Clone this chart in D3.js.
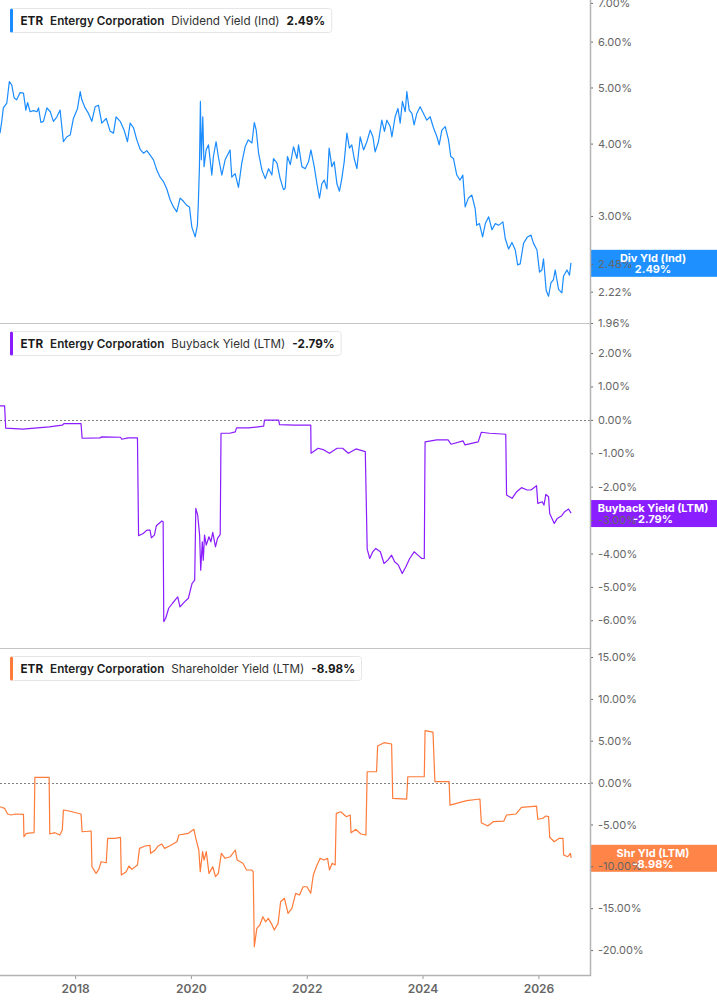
<!DOCTYPE html>
<html>
<head>
<meta charset="utf-8">
<script src="https://cdn.jsdelivr.net/npm/d3@7"></script>
<style>
  body { margin: 0; background: #fff; }
  svg { display: block; font-family: Inter, "Noto Sans", sans-serif; }
</style>
</head>
<body>
<svg id="chart" width="717" height="1005"></svg>
<script>
// values: [decimal year, percent]
const divYield = [
  [2016.705, 4.17], [2016.734, 4.37], [2016.762, 4.61], [2016.821, 4.70], [2016.866, 5.12],
  [2016.907, 5.05], [2016.947, 4.80], [2016.993, 4.76], [2017.050, 4.90], [2017.107, 4.89],
  [2017.149, 4.57], [2017.177, 4.71], [2017.223, 4.54], [2017.280, 4.56], [2017.339, 4.54],
  [2017.366, 4.61], [2017.408, 4.35], [2017.453, 4.37], [2017.512, 4.61], [2017.569, 4.54],
  [2017.626, 4.37], [2017.684, 4.45], [2017.741, 4.57], [2017.798, 4.03], [2017.857, 4.11],
  [2017.914, 4.14], [2017.971, 4.42], [2018.040, 4.60], [2018.087, 4.92], [2018.116, 4.76],
  [2018.173, 4.61], [2018.230, 4.51], [2018.289, 4.37], [2018.346, 4.63], [2018.403, 4.66],
  [2018.461, 4.34], [2018.536, 4.42], [2018.605, 4.20], [2018.662, 4.17], [2018.708, 4.45],
  [2018.777, 4.37], [2018.847, 4.22], [2018.904, 4.03], [2018.950, 4.34], [2019.007, 4.26],
  [2019.066, 4.06], [2019.123, 3.91], [2019.180, 3.85], [2019.239, 3.89], [2019.296, 3.82],
  [2019.353, 3.75], [2019.411, 3.60], [2019.468, 3.50], [2019.525, 3.44], [2019.584, 3.34],
  [2019.641, 3.20], [2019.698, 3.11], [2019.757, 3.05], [2019.814, 3.22], [2019.871, 3.18],
  [2019.930, 3.13], [2019.975, 3.11], [2020.016, 2.87], [2020.073, 2.76], [2020.113, 2.89],
  [2020.130, 3.16], [2020.147, 3.65], [2020.164, 4.73], [2020.182, 3.75], [2020.206, 4.45],
  [2020.228, 3.65], [2020.263, 3.90], [2020.303, 3.98], [2020.361, 3.53], [2020.389, 3.80],
  [2020.436, 4.03], [2020.475, 3.80], [2020.534, 3.53], [2020.591, 3.75], [2020.677, 3.90],
  [2020.707, 3.50], [2020.764, 3.55], [2020.821, 3.36], [2020.879, 3.70], [2020.936, 3.95],
  [2020.993, 4.06], [2021.052, 4.01], [2021.092, 4.35], [2021.126, 4.22], [2021.166, 3.85],
  [2021.225, 3.60], [2021.282, 3.48], [2021.339, 3.62], [2021.398, 3.53], [2021.425, 3.77],
  [2021.484, 3.70], [2021.541, 3.48], [2021.598, 3.33], [2021.627, 3.35], [2021.667, 3.80],
  [2021.714, 3.68], [2021.771, 3.95], [2021.829, 3.77], [2021.857, 3.98], [2021.916, 3.65],
  [2021.973, 3.62], [2022.030, 3.72], [2022.071, 3.90], [2022.128, 3.65], [2022.175, 3.41],
  [2022.220, 3.22], [2022.261, 3.41], [2022.301, 3.46], [2022.347, 3.34], [2022.387, 3.93],
  [2022.434, 3.65], [2022.473, 3.72], [2022.520, 3.41], [2022.565, 3.31], [2022.606, 3.48],
  [2022.646, 3.72], [2022.693, 4.17], [2022.738, 3.93], [2022.779, 3.98], [2022.819, 3.77],
  [2022.866, 3.62], [2022.922, 4.11], [2022.980, 3.90], [2023.038, 4.03], [2023.095, 4.22],
  [2023.142, 4.11], [2023.182, 3.87], [2023.239, 4.03], [2023.297, 4.39], [2023.342, 4.20],
  [2023.384, 4.39], [2023.441, 4.28], [2023.470, 4.11], [2023.527, 4.45], [2023.574, 4.60],
  [2023.613, 4.34], [2023.653, 4.73], [2023.700, 4.54], [2023.729, 4.92], [2023.769, 4.57],
  [2023.816, 4.51], [2023.855, 4.31], [2023.902, 4.51], [2023.959, 4.63], [2024.016, 4.51],
  [2024.075, 4.39], [2024.132, 4.45], [2024.189, 4.26], [2024.248, 4.11], [2024.287, 3.98],
  [2024.334, 4.22], [2024.391, 4.28], [2024.448, 4.06], [2024.489, 3.80], [2024.534, 3.77],
  [2024.593, 3.53], [2024.650, 3.46], [2024.697, 3.53], [2024.736, 3.11], [2024.793, 3.22],
  [2024.852, 3.26], [2024.909, 3.09], [2024.938, 2.89], [2024.983, 2.91], [2025.035, 2.76],
  [2025.082, 2.91], [2025.139, 2.99], [2025.197, 2.84], [2025.254, 2.91], [2025.311, 2.89],
  [2025.387, 2.93], [2025.427, 2.74], [2025.484, 2.63], [2025.543, 2.70], [2025.600, 2.62],
  [2025.640, 2.47], [2025.686, 2.48], [2025.743, 2.69], [2025.812, 2.76], [2025.871, 2.78],
  [2025.916, 2.69], [2025.974, 2.62], [2026.019, 2.40], [2026.061, 2.42], [2026.089, 2.53],
  [2026.135, 2.23], [2026.175, 2.18], [2026.216, 2.30], [2026.261, 2.33], [2026.290, 2.42],
  [2026.348, 2.24], [2026.406, 2.21], [2026.434, 2.36], [2026.493, 2.42], [2026.537, 2.37],
  [2026.561, 2.49]
];

const buybackYield = [
  [2016.705, 0.42], [2016.783, 0.42], [2016.802, -0.25], [2017.095, -0.28], [2017.550, -0.21],
  [2017.776, -0.16], [2017.810, -0.11], [2018.102, -0.11], [2018.121, -0.55], [2018.427, -0.54],
  [2018.460, -0.51], [2018.784, -0.52], [2018.805, -0.58], [2018.916, -0.54], [2019.078, -0.54],
  [2019.097, -3.47], [2019.175, -3.40], [2019.240, -3.30], [2019.292, -3.30], [2019.318, -3.53],
  [2019.370, -3.45], [2019.403, -3.17], [2019.499, -3.03], [2019.520, -3.05], [2019.532, -6.04],
  [2019.565, -5.94], [2019.617, -5.64], [2019.683, -5.49], [2019.727, -5.40], [2019.772, -5.30],
  [2019.812, -5.60], [2019.890, -5.45], [2019.955, -5.34], [2020.019, -4.90], [2020.066, -4.80],
  [2020.085, -2.65], [2020.118, -2.85], [2020.151, -3.45], [2020.170, -4.50], [2020.196, -3.65],
  [2020.215, -4.20], [2020.235, -3.45], [2020.266, -3.75], [2020.313, -3.50], [2020.346, -3.65],
  [2020.377, -3.37], [2020.424, -3.80], [2020.461, -3.55], [2020.508, -3.43], [2020.520, -0.40],
  [2020.670, -0.40], [2020.767, -0.36], [2020.788, -0.24], [2020.995, -0.24], [2021.256, -0.19],
  [2021.268, -0.01], [2021.515, -0.01], [2021.529, -0.14], [2021.776, -0.16], [2022.068, -0.16],
  [2022.075, -1.00], [2022.197, -0.85], [2022.296, -0.90], [2022.392, -1.00], [2022.522, -0.85],
  [2022.620, -0.85], [2022.717, -1.00], [2022.848, -0.87], [2023.011, -0.95], [2023.043, -3.87],
  [2023.088, -4.15], [2023.140, -3.95], [2023.192, -3.85], [2023.270, -3.95], [2023.335, -4.30],
  [2023.401, -4.20], [2023.465, -4.05], [2023.517, -4.25], [2023.583, -4.35], [2023.648, -4.60],
  [2023.712, -4.40], [2023.778, -4.15], [2023.855, -3.95], [2023.921, -4.05], [2023.985, -4.15],
  [2024.031, -4.15], [2024.043, -0.66], [2024.246, -0.60], [2024.441, -0.60], [2024.493, -0.73],
  [2024.700, -0.63], [2024.733, -0.75], [2024.961, -0.66], [2025.013, -0.37], [2025.156, -0.40],
  [2025.435, -0.43], [2025.448, -2.25], [2025.546, -2.35], [2025.624, -2.15], [2025.708, -2.03],
  [2025.805, -2.10], [2025.871, -2.10], [2025.967, -1.97], [2025.988, -2.50], [2026.066, -2.45],
  [2026.097, -2.55], [2026.130, -2.23], [2026.176, -2.30], [2026.195, -2.80], [2026.273, -3.10],
  [2026.325, -2.95], [2026.403, -2.87], [2026.455, -2.75], [2026.520, -2.67], [2026.565, -2.79]
];

const shareholderYield = [
  [2016.705, -2.88], [2016.783, -3.07], [2016.835, -3.75], [2016.900, -3.87], [2016.966, -3.75],
  [2017.107, -3.79], [2017.114, -6.46], [2017.159, -6.06], [2017.290, -5.98], [2017.303, 0.63],
  [2017.550, 0.63], [2017.563, -6.14], [2017.648, -5.98], [2017.733, -6.26], [2017.778, -5.66],
  [2017.797, -3.27], [2017.874, -3.36], [2018.102, -3.75], [2018.121, -5.87], [2018.278, -5.78],
  [2018.291, -10.05], [2018.363, -10.84], [2018.408, -10.36], [2018.448, -9.45], [2018.537, -9.57],
  [2018.563, -6.65], [2018.688, -6.65], [2018.784, -6.53], [2018.798, -11.04], [2018.883, -10.64],
  [2018.928, -9.96], [2018.980, -10.36], [2019.078, -9.84], [2019.111, -7.85], [2019.208, -7.57],
  [2019.292, -7.49], [2019.304, -8.45], [2019.370, -8.14], [2019.436, -7.57], [2019.499, -7.33],
  [2019.546, -7.85], [2019.631, -7.57], [2019.760, -7.06], [2019.793, -6.26], [2019.955, -6.06],
  [2020.052, -5.58], [2020.085, -6.65], [2020.137, -8.05], [2020.163, -10.64], [2020.202, -8.25],
  [2020.228, -9.25], [2020.266, -8.25], [2020.313, -10.84], [2020.377, -10.05], [2020.424, -11.24],
  [2020.475, -10.84], [2020.527, -8.45], [2020.593, -9.04], [2020.683, -8.85], [2020.767, -8.05],
  [2020.800, -9.25], [2020.898, -9.64], [2020.962, -10.44], [2021.047, -10.44], [2021.073, -10.64],
  [2021.092, -19.60], [2021.138, -17.41], [2021.190, -17.01], [2021.242, -16.02], [2021.287, -16.62],
  [2021.334, -16.21], [2021.385, -16.81], [2021.437, -17.61], [2021.503, -16.81], [2021.548, -14.23],
  [2021.613, -13.82], [2021.677, -15.61], [2021.743, -15.02], [2021.807, -13.22], [2021.873, -13.43],
  [2021.938, -12.44], [2022.002, -12.44], [2022.068, -13.22], [2022.113, -11.04], [2022.165, -10.05],
  [2022.230, -9.04], [2022.296, -9.25], [2022.360, -9.04], [2022.392, -10.44], [2022.439, -9.64],
  [2022.491, -9.84], [2022.510, -3.67], [2022.587, -3.48], [2022.686, -4.07], [2022.750, -3.87],
  [2022.764, -5.98], [2022.848, -5.58], [2022.933, -6.14], [2023.023, -6.26], [2023.043, 1.30],
  [2023.206, 1.30], [2023.225, 4.37], [2023.335, 4.77], [2023.465, 4.61], [2023.486, -1.88],
  [2023.725, -1.96], [2023.745, 0.70], [2024.031, 0.70], [2024.043, 6.20], [2024.180, 6.04],
  [2024.213, 0.11], [2024.460, 0.11], [2024.474, -2.68], [2024.765, -2.16], [2024.993, -1.96],
  [2025.013, -4.79], [2025.123, -5.18], [2025.220, -4.67], [2025.403, -4.59], [2025.448, -3.87],
  [2025.610, -3.75], [2025.708, -2.95], [2025.967, -2.80], [2025.988, -4.38], [2026.078, -4.26],
  [2026.130, -3.99], [2026.176, -4.07], [2026.195, -6.53], [2026.273, -7.06], [2026.358, -6.65],
  [2026.424, -6.65], [2026.436, -8.65], [2026.508, -8.85], [2026.553, -8.45], [2026.565, -8.98]
];

const divTicks = [1.96, 2.22, 2.48, 3, 4, 5, 6, 7];
const buybackTicks = [2, 1, 0, -1, -2, -3, -4, -5, -6];
const shareholderTicks = [15, 10, 5, 0, -5, -10, -15, -20];
const xTickYears = [2018, 2020, 2022, 2024, 2026];

const W = 717, axisX = 590;
const svg = d3.select("#chart");

// plain hyphen for negatives, like the original
const pct = d => d3.formatLocale({ decimal: ".", thousands: ",", grouping: [3], currency: ["", ""], minus: "-" })
  .format(".2f")(d) + "%";

const toDate = yr => {
  const y0 = Math.floor(yr);
  return new Date(y0, 0, 1 + Math.round((yr - y0) * 365));
};

const x = d3.scaleTime()
  .domain([new Date(2016, 8, 14), new Date(2026, 10, 16)])
  .range([0, axisX - 1]);

const panels = [
  {
    data: divYield, top: 0, bottom: 323, color: "#1a8cff", badge: "#1e90ff",
    scale: d3.scaleLog().domain([1.96, 7.08]), ticks: divTicks, zero: false,
    label: "Dividend Yield (Ind)", short: "Div Yld (Ind)"
  },
  {
    data: buybackYield, top: 323, bottom: 648, color: "#8a1cff", badge: "#8b1eff",
    scale: d3.scaleLinear().domain([-6.83, 2.90]), ticks: buybackTicks, zero: true,
    label: "Buyback Yield (LTM)", short: "Buyback Yield (LTM)"
  },
  {
    data: shareholderYield, top: 648, bottom: 975, color: "#ff7b3a", badge: "#ff8448",
    scale: d3.scaleLinear().domain([-22.98, 16.08]), ticks: shareholderTicks, zero: true,
    label: "Shareholder Yield (LTM)", short: "Shr Yld (LTM)"
  }
];

panels.forEach((p, i) => {
  const y = p.scale.range([p.bottom, p.top]);
  const g = svg.append("g");
  const last = p.data[p.data.length - 1][1];

  // panel separator
  if (i < panels.length - 1) {
    g.append("line")
      .attr("x1", 0).attr("x2", axisX)
      .attr("y1", p.bottom + 0.5).attr("y2", p.bottom + 0.5)
      .attr("stroke", "#c4c4c4").attr("stroke-width", 1);
  }

  if (p.zero) {
    g.append("line")
      .attr("x1", 0).attr("x2", axisX)
      .attr("y1", Math.round(y(0)) + 0.5).attr("y2", Math.round(y(0)) + 0.5)
      .attr("stroke", "#808080").attr("stroke-width", 1)
      .attr("stroke-dasharray", "2,2");
  }

  // series line
  const line = d3.line()
    .x(d => x(toDate(d[0])))
    .y(d => y(d[1]));
  g.append("path")
    .datum(p.data)
    .attr("d", line)
    .attr("fill", "none")
    .attr("stroke", p.color)
    .attr("stroke-width", 1.2)
    .attr("stroke-linejoin", "round");

  // value badge background sits under the tick labels
  const cy = y(last) + 0.5;
  g.append("rect")
    .attr("x", axisX).attr("y", cy - 13.5)
    .attr("width", W - axisX).attr("height", 27)
    .attr("fill", p.badge);

  // right axis ticks + labels
  const yAxis = d3.axisRight(y)
    .tickValues(p.ticks)
    .tickSize(3)
    .tickPadding(5)
    .tickFormat(pct);
  const ax = g.append("g")
    .attr("transform", `translate(${axisX},0)`)
    .call(yAxis);
  ax.select(".domain").remove();
  ax.selectAll(".tick line").attr("stroke", "#666");
  ax.selectAll(".tick text")
    .attr("fill", "#666")
    .style("font-size", "11px")
    .style("font-family", "Inter, sans-serif");

  // badge text on top
  g.append("text")
    .attr("x", 653).attr("y", cy - 1.5)
    .attr("text-anchor", "middle")
    .attr("fill", "#fff")
    .style("font-size", "11px").style("font-weight", 700)
    .text(p.short);
  g.append("text")
    .attr("x", 653).attr("y", cy + 9.5)
    .attr("text-anchor", "middle")
    .attr("fill", "#fff")
    .style("font-size", "11px").style("font-weight", 700)
    .text(pct(last));

  // legend box
  const lg = g.append("g").attr("transform", `translate(10,${p.top + 8})`);
  const box = lg.append("rect")
    .attr("x", 0.5).attr("y", 0.5).attr("height", 24)
    .attr("rx", 3)
    .attr("fill", "#fff").attr("stroke", "#e6e6e6");
  lg.append("rect")
    .attr("x", 0).attr("y", 0.5).attr("width", 3).attr("height", 24)
    .attr("rx", 1.5)
    .attr("fill", p.color);
  const parts = [
    { t: "ETR", w: 700, c: "#1a1a1a" },
    { t: "Entergy Corporation", w: 600, c: "#222" },
    { t: p.label, w: 400, c: "#333" },
    { t: pct(last), w: 700, c: "#1a1a1a" }
  ];
  let tx = 10.5;
  parts.forEach(pt => {
    const t = lg.append("text")
      .attr("x", tx).attr("y", 17)
      .attr("fill", pt.c)
      .style("font-size", "11.7px")
      .style("font-weight", pt.w)
      .text(pt.t);
    tx += t.node().getComputedTextLength() + 7;
  });
  box.attr("width", tx - 1);
});

// right axis line
svg.append("line")
  .attr("x1", axisX + 0.5).attr("x2", axisX + 0.5)
  .attr("y1", 0).attr("y2", 976)
  .attr("stroke", "#b4b4b4").attr("stroke-width", 1.5);

// bottom time axis
const xAxis = d3.axisBottom(x)
  .tickValues(xTickYears.map(yy => new Date(yy, 0, 1)))
  .tickSize(4)
  .tickPadding(5)
  .tickFormat(d3.timeFormat("%Y"));
const xa = svg.append("g")
  .attr("transform", "translate(0,975)")
  .call(xAxis);
xa.select(".domain").remove();
xa.selectAll(".tick line").attr("stroke", "#999");
xa.selectAll(".tick text")
  .attr("fill", "#666")
  .style("font-size", "12px")
  .style("font-weight", 600)
  .style("font-family", "Inter, sans-serif");
svg.append("line")
  .attr("x1", 0).attr("x2", axisX + 1)
  .attr("y1", 975.5).attr("y2", 975.5)
  .attr("stroke", "#b4b4b4").attr("stroke-width", 1.5);
</script>
</body>
</html>
